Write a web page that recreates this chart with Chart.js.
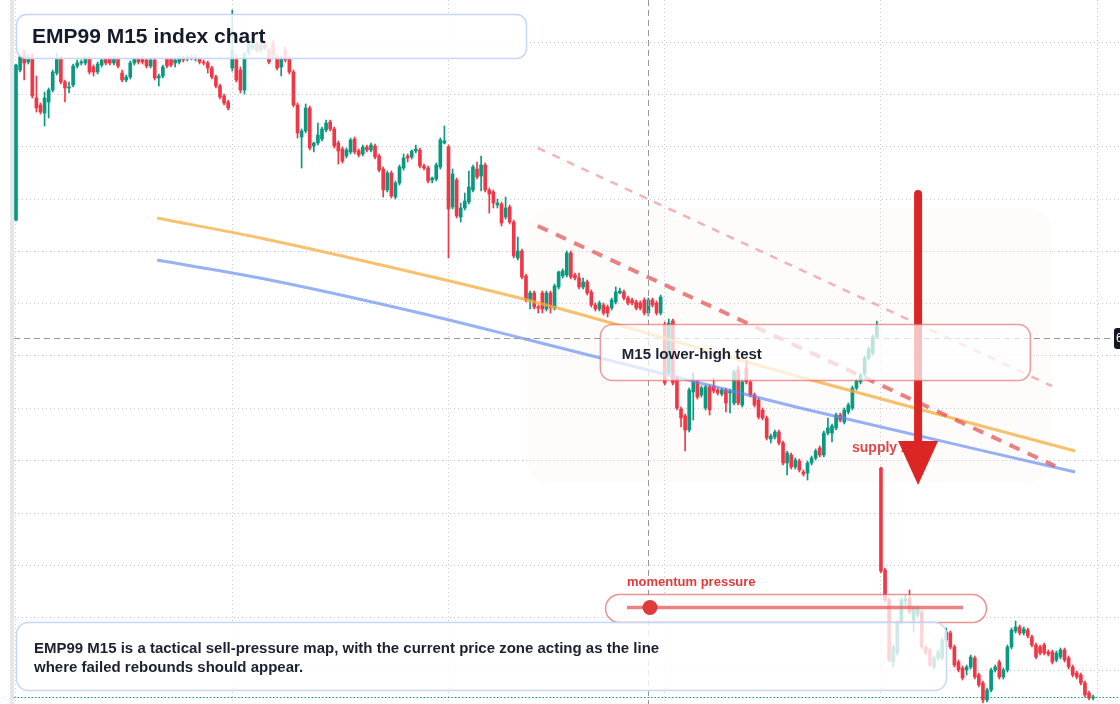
<!DOCTYPE html>
<html>
<head>
<meta charset="utf-8">
<title>EMP99 M15 index chart</title>
<script src="https://cdn.jsdelivr.net/npm/chart.js@4.4.1/dist/chart.umd.min.js"></script>
<style>
  html, body { margin: 0; padding: 0; background: #ffffff; }
  #wrap { position: relative; width: 1120px; height: 704px; overflow: hidden; }
</style>
</head>
<body>
<div id="wrap"><canvas id="chart" width="1120" height="704"></canvas></div>
<script>
// M15 candles (no price labels shown, so an arbitrary price scale)
const opens = [
  78.0, 93.0, 94.7, 93.8, 94.5, 90.2, 89.5, 88.7, 89.8, 91.0,
  92.7, 94.2, 91.8, 91.2, 91.5, 93.4, 93.7, 93.7, 94.2, 93.3,
  92.8, 93.5, 94.1, 94.1, 93.7, 94.1, 92.7, 92.0, 92.3, 93.7,
  94.1, 94.1, 94.0, 93.4, 94.0, 92.2, 92.4, 94.1, 94.1, 93.7,
  93.8, 94.2, 94.1, 94.3, 94.1, 94.1, 93.8, 93.7, 93.2, 92.3,
  91.4, 90.4, 89.8, 93.2, 94.2, 93.0, 91.0, 94.7, 95.2, 95.6,
  95.0, 95.7, 95.0, 95.7, 94.3, 93.3, 95.0, 94.2, 92.8, 89.5,
  86.3, 86.9, 89.2, 85.4, 85.7, 86.1, 87.0, 87.8, 87.1, 85.7,
  85.1, 84.4, 84.8, 86.1, 84.9, 84.6, 85.3, 85.0, 85.4, 84.4,
  83.1, 81.0, 82.7, 80.3, 81.7, 83.2, 84.4, 84.3, 84.9, 85.0,
  83.4, 83.2, 82.0, 82.1, 83.3, 85.7, 85.3, 79.3, 82.0, 78.3,
  79.2, 79.8, 81.0, 83.1, 82.4, 83.5, 81.0, 80.8, 79.5, 79.6,
  78.3, 79.3, 77.8, 74.2, 74.9, 72.4, 70.0, 70.7, 69.3, 70.7,
  69.1, 70.7, 69.2, 71.3, 72.4, 72.5, 74.7, 72.5, 72.2, 71.3,
  71.8, 70.8, 69.5, 69.1, 69.5, 69.3, 69.2, 69.8, 70.7, 70.8,
  70.2, 70.0, 69.8, 69.7, 70.0, 68.7, 70.0, 69.7, 68.7, 67.5,
  62.7, 67.9, 62.2, 59.1, 58.4, 57.0, 60.8, 61.8, 60.5, 59.2,
  61.3, 61.4, 61.0, 60.6, 61.0, 60.7, 59.7, 63.0, 59.5, 63.2,
  61.8, 60.5, 60.0, 59.0, 58.2, 56.1, 56.3, 56.8, 55.7, 53.7,
  54.5, 53.3, 53.9, 52.8, 52.7, 53.7, 54.2, 55.2, 54.5, 56.7,
  56.7, 57.2, 58.5, 57.8, 58.8, 59.2, 61.2, 61.8, 62.6, 64.2,
  64.7, 66.3, 53.2, 43.0, 40.0, 33.8, 34.7, 37.8, 39.9, 40.2,
  38.0, 38.5, 38.8, 35.3, 35.0, 33.3, 34.2, 34.2, 36.0, 36.7,
  35.3, 33.8, 33.2, 33.0, 33.3, 34.2, 32.5, 31.7, 30.0, 31.0,
  33.0, 33.8, 32.3, 33.0, 35.3, 36.9, 37.3, 36.7, 37.0, 36.3,
  35.5, 35.3, 35.5, 34.8, 34.8, 34.0, 34.3, 35.0, 34.2, 33.3,
  32.7, 32.5, 31.7, 30.7, 30.2
];
const highs = [
  93.6, 94.5, 95.0, 94.6, 94.7, 92.4, 89.7, 90.8, 91.2, 93.0,
  94.7, 94.4, 92.0, 91.8, 93.6, 94.0, 94.0, 94.4, 94.4, 93.5,
  93.8, 94.2, 94.3, 94.4, 94.4, 94.3, 93.0, 92.5, 93.9, 94.3,
  94.3, 94.4, 94.2, 94.2, 94.2, 92.6, 93.5, 94.3, 94.3, 94.2,
  94.4, 94.4, 94.5, 94.5, 94.5, 94.3, 94.0, 93.9, 93.4, 92.5,
  91.6, 90.6, 90.0, 99.0, 94.6, 93.3, 94.8, 96.0, 95.7, 95.8,
  95.7, 96.0, 95.2, 96.0, 94.5, 94.4, 95.3, 94.4, 93.0, 89.7,
  87.1, 89.6, 89.4, 85.8, 87.7, 87.3, 88.0, 88.0, 87.3, 85.9,
  85.3, 85.2, 86.2, 86.3, 85.1, 85.5, 85.5, 85.7, 85.6, 84.6,
  83.3, 82.9, 82.9, 81.9, 83.5, 84.6, 84.6, 85.0, 85.5, 85.2,
  83.6, 83.4, 82.3, 83.7, 86.2, 87.4, 85.5, 83.1, 82.2, 79.7,
  80.7, 82.9, 83.5, 83.8, 84.4, 83.7, 81.2, 81.0, 80.1, 79.8,
  80.3, 79.5, 78.0, 76.3, 75.1, 72.6, 70.9, 70.9, 69.5, 70.9,
  70.9, 70.9, 71.6, 72.9, 73.1, 74.9, 74.9, 72.7, 72.7, 72.2,
  72.0, 71.0, 69.7, 69.9, 69.7, 69.5, 70.2, 71.3, 71.2, 71.0,
  70.4, 70.2, 70.0, 69.9, 70.2, 70.2, 70.2, 69.9, 70.5, 67.8,
  68.1, 68.1, 62.4, 59.3, 58.6, 61.2, 62.7, 62.0, 61.4, 61.5,
  61.5, 62.2, 61.2, 61.2, 61.2, 61.1, 63.0, 63.4, 62.0, 64.0,
  62.0, 60.7, 60.2, 59.2, 58.4, 56.6, 57.0, 57.0, 55.9, 54.9,
  54.7, 54.2, 54.1, 53.0, 53.9, 54.4, 55.1, 55.4, 56.9, 58.2,
  57.6, 58.7, 58.7, 59.2, 59.7, 61.4, 62.1, 62.7, 64.4, 65.3,
  66.5, 67.9, 53.3, 43.2, 40.2, 35.5, 37.9, 40.2, 40.5, 41.0,
  39.4, 39.4, 39.0, 35.5, 35.2, 34.4, 35.0, 36.2, 37.2, 36.9,
  35.5, 34.0, 33.4, 33.5, 34.5, 34.4, 32.7, 31.9, 31.2, 33.2,
  33.5, 34.0, 33.2, 35.5, 37.2, 37.9, 37.5, 37.3, 37.2, 36.5,
  35.7, 35.5, 35.7, 35.0, 35.0, 34.9, 35.2, 35.2, 34.4, 33.5,
  32.9, 32.7, 31.9, 30.9, 30.5
];
const lows = [
  77.9, 92.8, 92.0, 93.6, 90.2, 88.8, 88.6, 87.4, 88.2, 90.8,
  92.5, 91.6, 89.8, 90.7, 91.3, 93.2, 93.5, 93.5, 92.6, 92.4,
  92.6, 93.3, 93.5, 93.5, 93.5, 93.2, 91.8, 91.8, 92.1, 93.5,
  93.6, 93.6, 93.2, 93.2, 92.0, 91.4, 92.2, 93.2, 93.3, 93.3,
  93.6, 93.8, 93.9, 94.0, 93.9, 93.6, 93.5, 92.7, 92.1, 91.2,
  90.1, 89.5, 89.0, 92.9, 91.8, 90.7, 90.6, 94.5, 95.0, 94.8,
  94.8, 95.0, 93.6, 94.3, 93.0, 92.4, 93.8, 92.6, 89.3, 86.2,
  83.2, 86.7, 85.0, 84.8, 85.5, 85.9, 86.8, 86.9, 85.2, 83.6,
  83.7, 84.2, 84.6, 84.6, 84.3, 84.4, 84.8, 84.8, 84.1, 82.8,
  80.3, 80.8, 80.2, 80.1, 81.5, 83.0, 83.8, 84.1, 84.7, 83.2,
  83.0, 81.7, 81.7, 81.9, 83.1, 85.6, 74.2, 79.1, 78.2, 77.8,
  79.0, 79.6, 80.8, 82.1, 80.9, 80.8, 78.7, 79.2, 79.2, 77.4,
  78.1, 77.6, 74.2, 74.0, 72.1, 69.8, 69.1, 69.1, 68.7, 68.7,
  68.9, 68.7, 69.0, 71.1, 72.2, 72.3, 72.1, 72.0, 71.1, 71.1,
  70.5, 69.3, 68.9, 68.9, 68.5, 68.3, 69.0, 69.6, 70.6, 70.0,
  69.5, 69.5, 69.0, 69.0, 68.5, 68.4, 69.3, 68.5, 68.5, 61.5,
  62.5, 61.5, 59.0, 57.3, 54.9, 56.8, 58.0, 60.1, 60.3, 59.0,
  58.5, 60.7, 60.5, 60.4, 58.8, 58.7, 59.5, 59.5, 59.3, 61.6,
  60.3, 59.3, 58.1, 58.0, 56.0, 55.7, 56.1, 55.5, 53.5, 52.5,
  53.1, 53.1, 52.8, 52.4, 52.0, 53.5, 54.0, 54.3, 54.3, 56.5,
  55.8, 57.0, 57.8, 57.6, 58.6, 59.0, 61.0, 61.6, 62.4, 64.0,
  64.5, 66.1, 42.7, 39.8, 33.8, 33.3, 34.5, 37.6, 39.5, 38.6,
  36.8, 38.3, 35.1, 34.5, 33.3, 33.1, 34.0, 34.0, 35.8, 35.1,
  33.3, 32.8, 32.0, 32.5, 33.1, 32.1, 31.3, 29.7, 29.8, 30.8,
  32.8, 32.1, 32.1, 32.8, 35.1, 36.7, 36.5, 36.5, 36.2, 35.3,
  34.1, 34.5, 34.5, 34.4, 33.6, 33.8, 34.1, 33.8, 33.1, 32.3,
  32.1, 31.5, 30.3, 30.0, 30.0
];
const closes = [
  93.5, 94.3, 93.7, 94.3, 90.4, 89.2, 88.8, 90.2, 91.0, 92.8,
  94.2, 91.8, 91.2, 91.3, 93.4, 93.7, 93.8, 94.2, 92.8, 92.8,
  93.6, 94.0, 93.7, 93.7, 94.2, 93.4, 92.0, 92.3, 93.7, 94.1,
  93.8, 93.8, 93.4, 94.0, 92.2, 92.4, 93.3, 93.4, 93.5, 94.0,
  94.2, 94.0, 94.3, 94.2, 94.3, 93.8, 93.7, 93.2, 92.3, 91.4,
  90.3, 89.7, 89.2, 95.0, 92.0, 91.0, 94.6, 95.8, 95.5, 95.0,
  95.5, 95.2, 93.8, 94.5, 93.2, 94.2, 94.0, 92.8, 89.5, 86.7,
  86.9, 89.2, 85.2, 85.7, 86.5, 87.1, 87.7, 87.1, 85.4, 84.9,
  83.9, 85.0, 86.0, 84.8, 84.5, 85.3, 85.0, 85.5, 84.3, 83.0,
  81.0, 82.7, 80.4, 81.7, 83.3, 84.2, 84.2, 84.9, 85.1, 83.4,
  83.2, 81.9, 82.2, 83.5, 86.0, 85.9, 79.1, 82.6, 78.4, 79.2,
  79.9, 81.3, 83.3, 82.3, 83.5, 81.0, 80.6, 79.7, 79.7, 77.7,
  79.2, 77.8, 74.4, 74.9, 72.3, 70.0, 70.7, 69.3, 69.2, 69.1,
  70.7, 69.2, 71.4, 72.8, 72.9, 74.7, 72.3, 72.2, 71.3, 71.8,
  70.7, 69.5, 69.1, 69.7, 68.7, 68.7, 70.0, 70.8, 70.9, 70.2,
  69.7, 69.7, 69.2, 69.2, 68.7, 70.0, 69.5, 68.7, 70.3, 61.7,
  67.7, 61.7, 59.2, 58.2, 57.0, 61.0, 61.8, 60.3, 61.2, 61.3,
  59.0, 60.9, 60.7, 61.0, 59.7, 60.9, 62.8, 59.7, 61.8, 61.8,
  60.5, 59.5, 58.3, 58.2, 56.2, 56.4, 56.8, 55.7, 53.7, 54.7,
  53.3, 54.0, 53.0, 52.6, 53.7, 54.2, 54.9, 54.5, 56.7, 57.2,
  57.4, 58.5, 58.0, 59.0, 59.5, 61.2, 61.9, 62.5, 64.2, 65.1,
  66.3, 67.4, 42.9, 40.0, 34.0, 35.3, 37.7, 40.0, 40.1, 38.8,
  39.2, 39.2, 35.3, 34.7, 33.5, 34.2, 34.8, 36.0, 36.8, 35.3,
  33.5, 33.0, 32.2, 33.3, 34.3, 32.3, 31.5, 30.0, 31.0, 33.0,
  33.3, 32.3, 33.0, 35.3, 37.0, 37.3, 36.7, 37.1, 36.4, 35.5,
  34.3, 34.7, 34.7, 34.6, 33.8, 34.7, 35.0, 34.0, 33.3, 32.5,
  32.3, 31.7, 30.5, 30.2, 30.3
];

// overlay trend lines: candle index -> price
const fastLineIdx = [34.6, 61.0, 99.0, 127.2, 192.2, 259.6];
const fastLine = [78.2, 76.1, 72.6, 69.8, 62.3, 54.9];
const slowLineIdx = [34.6, 61.0, 99.0, 124.8, 192.2, 259.6];
const slowLine = [74.0, 72.1, 68.7, 66.1, 59.2, 52.8];
const lowerHighIdx = [127.9, 254.7];
const lowerHighLine = [77.4, 53.4];
const upperChannelIdx = [127.9, 253.9];
const upperChannelLine = [85.2, 61.4];

// grid positions (no labels are visible in the reference)
const timeGridIdx = [0, 53, 106, 159, 212, 265];
const priceGrid = [95.8, 90.57, 85.33, 80.1, 74.87, 69.63, 64.4, 59.17, 53.93, 48.7, 43.47, 38.23, 33.0];

const UP = "#089981";
const DOWN = "#f23645";
const FONT = '"Liberation Sans", Arial, sans-serif';
const GRID = "rgba(185,189,198,0.8)";

const candleIdx = opens.map((_, i) => i);
const candleColors = candleIdx.map((i) => (closes[i] >= opens[i] ? UP : DOWN));

function roundRect(ctx, x, y, w, h, r) {
    ctx.beginPath();
    ctx.moveTo(x + r, y);
    ctx.lineTo(x + w - r, y);
    ctx.arcTo(x + w, y, x + w, y + r, r);
    ctx.lineTo(x + w, y + h - r);
    ctx.arcTo(x + w, y + h, x + w - r, y + h, r);
    ctx.lineTo(x + r, y + h);
    ctx.arcTo(x, y + h, x, y + h - r, r);
    ctx.lineTo(x, y + r);
    ctx.arcTo(x, y, x + r, y, r);
    ctx.closePath();
}

function panel(ctx, x, y, w, h, r, fill, stroke) {
    roundRect(ctx, x + 0.5, y + 0.5, w, h, r);
    ctx.fillStyle = fill;
    ctx.fill();
    ctx.lineWidth = 1.5;
    ctx.strokeStyle = stroke;
    ctx.stroke();
}

const overlayPlugin = {
    id: "overlay",
    beforeDraw(chart) {
        const ctx = chart.ctx;
        ctx.save();
        ctx.fillStyle = "#ffffff";
        ctx.fillRect(0, 0, chart.width, chart.height);
        ctx.fillStyle = "#e6e7eb";
        ctx.fillRect(10, 0, 4, chart.height);
        ctx.restore();
    },
    beforeDatasetsDraw(chart) {
        // supply zone shading
        const { ctx, scales: { x, y } } = chart;
        const x0 = x.getPixelForValue(125.2), x1 = x.getPixelForValue(253.9);
        const y0 = y.getPixelForValue(79.2), y1 = y.getPixelForValue(51.7);
        ctx.save();
        roundRect(ctx, x0, y0, x1 - x0, y1 - y0, 22);
        ctx.fillStyle = "rgba(245, 212, 190, 0.08)";
        ctx.fill();
        ctx.restore();
    },
    afterDatasetsDraw(chart) {
        const { ctx, scales: { x, y } } = chart;
        ctx.save();

        // crosshair
        const cx = Math.round(x.getPixelForValue(154.9)) + 0.5;
        const cy = Math.round(y.getPixelForValue(66.2)) + 0.5;
        ctx.strokeStyle = "#9598a1";
        ctx.lineWidth = 1;
        ctx.setLineDash([6, 4]);
        ctx.beginPath();
        ctx.moveTo(cx, 0);
        ctx.lineTo(cx, chart.height);
        ctx.moveTo(14, cy);
        ctx.lineTo(1113, cy);
        ctx.stroke();

        // last price line
        const ly = Math.round(y.getPixelForValue(closes[closes.length - 1])) + 0.5;
        ctx.strokeStyle = UP;
        ctx.setLineDash([1.5, 2]);
        ctx.beginPath();
        ctx.moveTo(14, ly);
        ctx.lineTo(chart.width, ly);
        ctx.stroke();
        ctx.setLineDash([]);

        // supply zone label
        ctx.fillStyle = "#e04848";
        ctx.font = "bold 14px " + FONT;
        ctx.textBaseline = "middle";
        ctx.fillText("supply zone", x.getPixelForValue(204.9), y.getPixelForValue(55.2));

        // sell arrow
        const ax = x.getPixelForValue(221.1);
        const aTop = y.getPixelForValue(80.6);
        const aBase = y.getPixelForValue(55.9);
        const aTip = y.getPixelForValue(51.5);
        ctx.strokeStyle = "#dc2626";
        ctx.lineWidth = 8;
        ctx.lineCap = "round";
        ctx.beginPath();
        ctx.moveTo(ax, aTop);
        ctx.lineTo(ax, aBase + 2);
        ctx.stroke();
        ctx.fillStyle = "#dc2626";
        ctx.beginPath();
        ctx.moveTo(ax - 20, aBase);
        ctx.lineTo(ax + 20, aBase);
        ctx.lineTo(ax, aTip);
        ctx.closePath();
        ctx.fill();

        // lower-high test box
        const bx0 = x.getPixelForValue(143.1), bx1 = x.getPixelForValue(248.5);
        const by0 = y.getPixelForValue(67.6), by1 = y.getPixelForValue(62.0);
        panel(ctx, bx0, by0, bx1 - bx0, by1 - by0, 12, "rgba(255,255,255,0.72)", "rgba(228,88,88,0.6)");
        ctx.fillStyle = "#1b2131";
        ctx.font = "bold 15px " + FONT;
        ctx.fillText("M15 lower-high test", bx0 + 22, (by0 + by1) / 2 + 2.5);

        // momentum pressure gauge
        panel(ctx, 605, 594, 381, 28, 14, "rgba(255,255,255,0.75)", "rgba(228,88,88,0.65)");
        ctx.strokeStyle = "rgba(228,88,88,0.75)";
        ctx.lineWidth = 3.5;
        ctx.lineCap = "butt";
        ctx.beginPath();
        ctx.moveTo(627, 607.5);
        ctx.lineTo(963, 607.5);
        ctx.stroke();
        ctx.fillStyle = "#e03b3b";
        ctx.beginPath();
        ctx.arc(650, 607.5, 7.5, 0, Math.PI * 2);
        ctx.fill();
        ctx.font = "bold 13px " + FONT;
        ctx.fillStyle = "#e03b3b";
        ctx.fillText("momentum pressure", 627, 582.5);

        // title panel
        panel(ctx, 16, 14, 510, 44, 10, "rgba(255,255,255,0.84)", "rgba(198,215,246,1)");
        ctx.fillStyle = "#141b2c";
        ctx.font = "bold 21px " + FONT;
        ctx.fillText("EMP99 M15 index chart", 32, 37);

        // note panel
        panel(ctx, 16, 622, 930, 68, 12, "rgba(255,255,255,0.8)", "rgba(198,215,246,1)");
        ctx.fillStyle = "#1b2131";
        ctx.font = "bold 15px " + FONT;
        ctx.fillText("EMP99 M15 is a tactical sell-pressure map, with the current price zone acting as the line", 34, 648.5);
        ctx.fillText("where failed rebounds should appear.", 34, 667.5);

        // crosshair price tag (cut by the right edge)
        roundRect(ctx, 1114, 328, 14, 21, 3);
        ctx.fillStyle = "#131722";
        ctx.fill();
        ctx.fillStyle = "#ffffff";
        ctx.font = "12px " + FONT;
        ctx.fillText("6", 1116, 339);

        ctx.restore();
    }
};

const toPoints = (xs, ys) => xs.map((v, i) => ({ x: v, y: ys[i] }));

new Chart(document.getElementById("chart"), {
    type: "bar",
    data: {
        datasets: [
            {
                type: "line",
                label: "Fast average",
                data: toPoints(fastLineIdx, fastLine),
                borderColor: "rgba(245, 172, 60, 0.75)",
                borderWidth: 3,
                pointRadius: 0,
                cubicInterpolationMode: "monotone",
                order: 2
            },
            {
                type: "line",
                label: "Slow average",
                data: toPoints(slowLineIdx, slowLine),
                borderColor: "rgba(95, 135, 240, 0.65)",
                borderWidth: 3,
                pointRadius: 0,
                cubicInterpolationMode: "monotone",
                order: 2
            },
            {
                type: "line",
                label: "Lower highs",
                data: toPoints(lowerHighIdx, lowerHighLine),
                borderColor: "rgba(226, 70, 70, 0.68)",
                borderWidth: 4,
                borderDash: [11, 9],
                pointRadius: 0,
                order: 1
            },
            {
                type: "line",
                label: "Upper channel",
                data: toPoints(upperChannelIdx, upperChannelLine),
                borderColor: "rgba(232, 100, 100, 0.48)",
                borderWidth: 2.5,
                borderDash: [8, 8],
                pointRadius: 0,
                order: 1
            },
            {
                label: "Wicks",
                data: candleIdx.map((i) => ({ x: i, y: [lows[i], highs[i]] })),
                backgroundColor: candleColors,
                barThickness: 1,
                grouped: false,
                order: 6
            },
            {
                label: "Bodies",
                data: candleIdx.map((i) => ({ x: i, y: [opens[i], closes[i]] })),
                backgroundColor: candleColors,
                barThickness: 3,
                grouped: false,
                order: 5
            }
        ]
    },
    options: {
        responsive: false,
        animation: false,
        events: [],
        layout: { padding: { left: 14, right: 0, top: 0, bottom: 0 } },
        plugins: { legend: { display: false }, tooltip: { enabled: false } },
        scales: {
            x: {
                type: "linear",
                min: -0.49,
                max: 270.59,
                offset: false,
                ticks: { display: false },
                grid: { color: GRID, drawTicks: false, offset: false },
                border: { display: false, dash: [1, 3] },
                afterBuildTicks: (s) => { s.ticks = timeGridIdx.map((v) => ({ value: v })); }
            },
            y: {
                type: "linear",
                min: 29.6,
                max: 100,
                beginAtZero: false,
                ticks: { display: false },
                grid: { color: GRID, drawTicks: false },
                border: { display: false, dash: [1, 3] },
                afterBuildTicks: (s) => { s.ticks = priceGrid.map((v) => ({ value: v })); }
            }
        }
    },
    plugins: [overlayPlugin]
});
</script>
</body>
</html>
